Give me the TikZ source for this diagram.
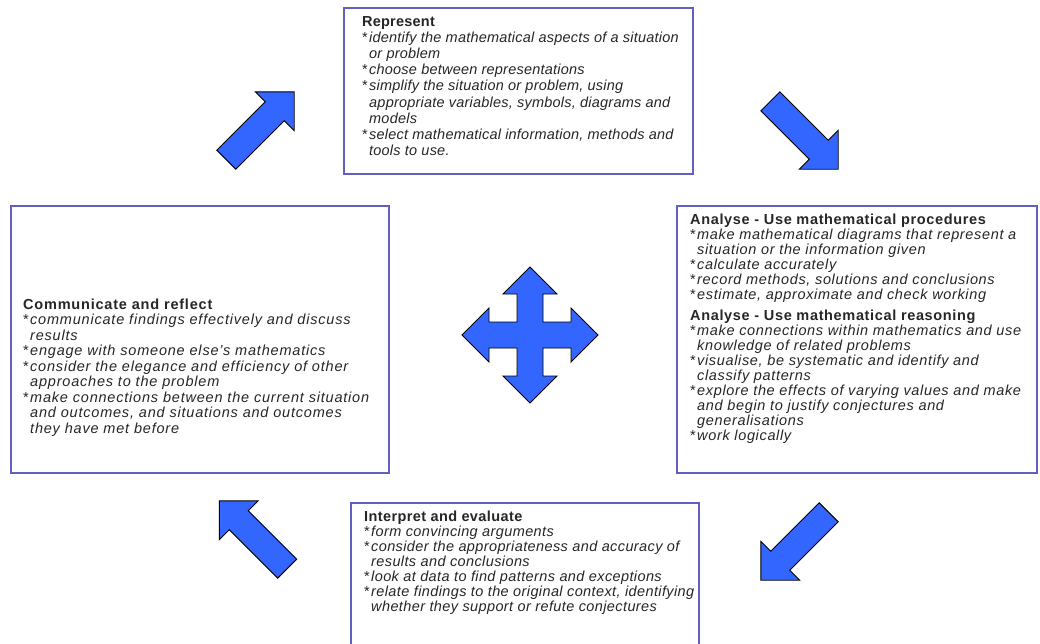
\documentclass[tikz,border=0pt]{standalone}
\usepackage{fontspec}
\setmainfont{Liberation Sans}
\usetikzlibrary{shapes.arrows,positioning}

\definecolor{framecol}{RGB}{96,96,192}
\definecolor{arrowblue}{RGB}{51,102,255}
% letter spacing, baseline skip
\newcommand{\boxfont}[2]{\addfontfeatures{LetterSpace=#1}\fontsize{14.5}{#2}\selectfont}
\newcommand{\bitem}[1]{\makebox[7pt][l]{*}\textit{#1}}
\newcommand{\bcont}[1]{\hspace*{7pt}\textit{#1}}

\begin{document}
\begin{tikzpicture}[x=1pt, y=-1pt,
		frame/.style={draw=framecol, line width=1.8pt, inner sep=0, anchor=north west},
		boxtext/.style={align=left, inner sep=0, text=black!85},
		blockarrow/.style={single arrow, draw=black, fill=arrowblue, line width=0.9pt,
				inner xsep=0, inner ysep=13pt, single arrow head extend=14pt,
				minimum height=96pt, anchor=tail}]
	\useasboundingbox (0,0) rectangle (1040,643);
	\clip (0,0) rectangle (1040,643);
	\fill[white] (0,0) rectangle (1040,643);

	% frames
	\node (repframe) [frame, minimum width=349pt, minimum height=166pt] at (343,7) {};
	\node (comframe) [frame, minimum width=378pt, minimum height=267pt] at (10,205) {};
	\node (anaframe) [frame, minimum width=360pt, minimum height=267pt] at (676,205) {};
	\node (intframe) [frame, minimum width=348pt, minimum height=170pt] at (350,502) {};

	% texts
	\node (reptext) [boxtext, font=\boxfont{1.5}{16.2}, anchor=north west] at ([xshift=19pt,yshift=-9pt]repframe.north west) {
		\textbf{Represent} \\
		\bitem{identify the mathematical aspects of a situation} \\
		\bcont{or problem} \\
		\bitem{choose between representations} \\
		\bitem{simplify the situation or problem, using} \\
		\bcont{appropriate variables, symbols, diagrams and} \\
		\bcont{models} \\
		\bitem{select mathematical information, methods and} \\
		\bcont{tools to use.}
	};

	\node (comtext) [boxtext, font=\boxfont{5.5}{15.5}, anchor=west] at ([xshift=13pt,yshift=-28pt]comframe.west) {
		\textbf{Communicate and reflect} \\
		\bitem{communicate findings effectively and discuss} \\
		\bcont{results} \\
		\bitem{engage with someone else's mathematics} \\
		\bitem{consider the elegance and efficiency of other} \\
		\bcont{approaches to the problem} \\
		\bitem{make connections between the current situation} \\
		\bcont{and outcomes, and situations and outcomes} \\
		\bcont{they have met before}
	};

	\node (anatext) [boxtext, font=\boxfont{4.5}{15}, anchor=north west] at ([xshift=14pt,yshift=-9pt]anaframe.north west) {
		\textbf{Analyse - Use mathematical procedures} \\
		\bitem{make mathematical diagrams that represent a} \\
		\bcont{situation or the information given} \\
		\bitem{calculate accurately} \\
		\bitem{record methods, solutions and conclusions} \\
		\bitem{estimate, approximate and check working} \\[6pt]
		\textbf{Analyse - Use mathematical reasoning} \\
		\bitem{make connections within mathematics and use} \\
		\bcont{knowledge of related problems} \\
		\bitem{visualise, be systematic and identify and} \\
		\bcont{classify patterns} \\
		\bitem{explore the effects of varying values and make} \\
		\bcont{and begin to justify conjectures and} \\
		\bcont{generalisations} \\
		\bitem{work logically}
	};

	\node (inttext) [boxtext, font=\boxfont{2.7}{15}, anchor=north west] at ([xshift=14pt,yshift=-9pt]intframe.north west) {
		\textbf{Interpret and evaluate} \\
		\bitem{form convincing arguments} \\
		\bitem{consider the appropriateness and accuracy of} \\
		\bcont{results and conclusions} \\
		\bitem{look at data to find patterns and exceptions} \\
		\bitem{relate findings to the original context, identifying} \\
		\bcont{whether they support or refute conjectures}
	};

	% cycle arrows
	\node (arrowne) [blockarrow, rotate=45] at (226,160) {};
	\node (arrowse) [blockarrow, rotate=-45] at (770,101) {};
	\node (arrowsw) [blockarrow, rotate=-135] at (829,512) {};
	\node (arrownw) [blockarrow, rotate=135] at (287.5,569) {};

	% four-way arrow in the middle
	\draw[draw=black, fill=arrowblue, line width=0.9pt, line join=miter, shift={(530,335)}]
		(0,-68) -- (27,-41) -- (13,-41) -- (13,-13) -- (41,-13) -- (41,-27) -- (68,0)
		-- (41,27) -- (41,13) -- (13,13) -- (13,41) -- (27,41) -- (0,68)
		-- (-27,41) -- (-13,41) -- (-13,13) -- (-41,13) -- (-41,27) -- (-68,0)
		-- (-41,-27) -- (-41,-13) -- (-13,-13) -- (-13,-41) -- (-27,-41) -- cycle;
\end{tikzpicture}
\end{document}
